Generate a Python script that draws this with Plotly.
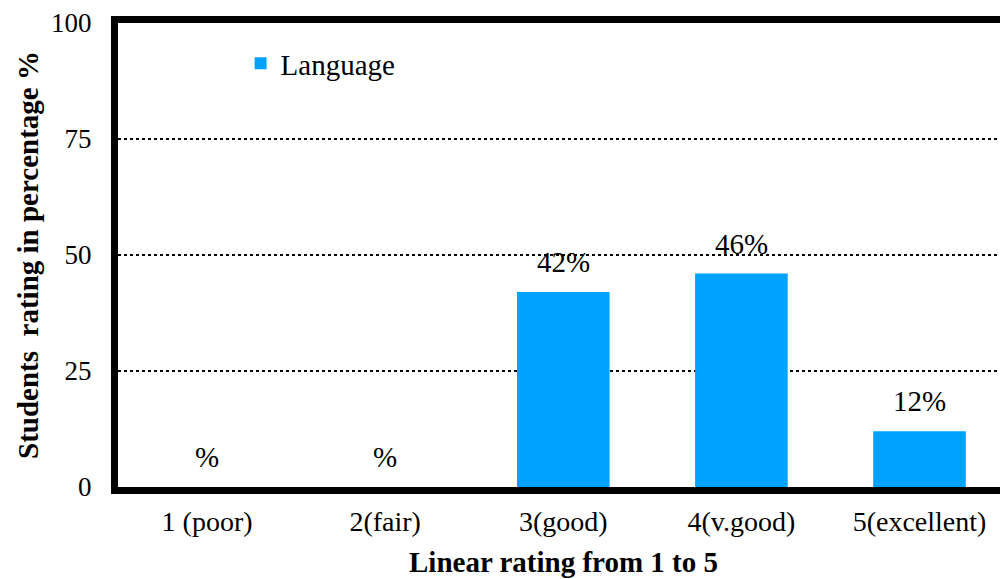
import plotly.graph_objects as go

categories = ["1 (poor)", "2(fair)", "3(good)", "4(v.good)", "5(excellent)"]
language_pct = [0, 0, 42, 46, 12]
y_ticks = [0, 25, 50, 75, 100]
x_title = "Linear rating from 1 to 5"
y_title = "Students  rating in percentage %"

BAR_COLOR = "#00A2FF"
FONT = "Times New Roman"

fig = go.Figure()
fig.add_trace(go.Bar(
    x=list(range(len(categories))),
    y=language_pct,
    name="Language",
    marker=dict(color=BAR_COLOR, line=dict(width=0)),
    width=0.52,
))

# value labels above each bar
for i, v in enumerate(language_pct):
    fig.add_annotation(
        x=i, y=v, xref="x", yref="y",
        text=f"{v}%" if v else "%",
        showarrow=False, yanchor="bottom", yshift=12,
        font=dict(family=FONT, size=29, color="black"),
    )

# x-axis title placed under the category labels
fig.add_annotation(
    x=2, xref="x", y=-0.162, yref="paper",
    text=f"<b>{x_title}</b>", showarrow=False,
    xanchor="center", yanchor="middle",
    font=dict(family=FONT, size=29, color="black"),
)

fig.update_layout(
    width=1000, height=579,
    margin=dict(l=118, r=0, t=23, b=92),
    paper_bgcolor="white", plot_bgcolor="white",
    font=dict(family=FONT, color="black"),
    bargap=0.48,
    showlegend=True,
    legend=dict(
        x=0.139, y=0.968, xanchor="left", yanchor="top",
        font=dict(family=FONT, size=29, color="black"),
        bgcolor="rgba(0,0,0,0)",
    ),
    xaxis=dict(
        tickmode="array",
        tickvals=list(range(len(categories))),
        ticktext=categories,
        range=[-0.5, 4.452],
        showline=True, linecolor="black", linewidth=7, mirror=True,
        showgrid=False, zeroline=False, ticks="",
        tickfont=dict(family=FONT, size=28, color="black"),
        ticklabelstandoff=3,
    ),
    yaxis=dict(
        range=[0, 100],
        tickmode="array", tickvals=y_ticks,
        ticktext=[str(t) for t in y_ticks],
        showline=True, linecolor="black", linewidth=7, mirror=False,
        showgrid=True, gridcolor="black", gridwidth=2, griddash="dot",
        zeroline=False, ticks="",
        tickfont=dict(family=FONT, size=27, color="black"),
        ticklabelstandoff=14,
        title=dict(text=f"<b>{y_title}</b>",
                   font=dict(family=FONT, size=29, color="black"), standoff=6),
    ),
)

fig.write_html("out.html")
